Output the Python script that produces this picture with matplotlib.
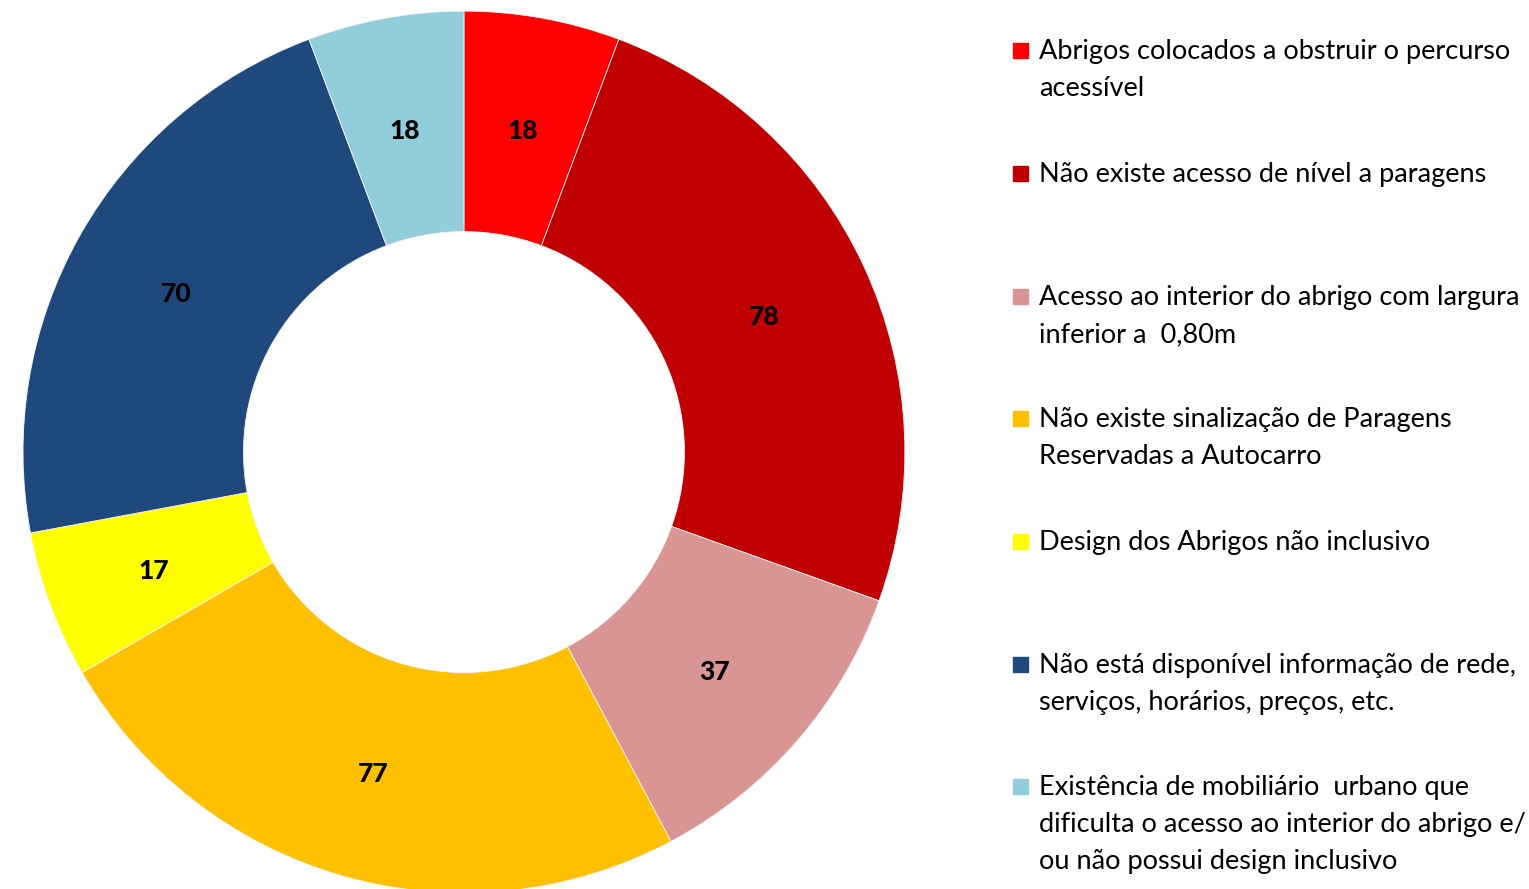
import matplotlib.pyplot as plt
from matplotlib.patches import Rectangle

plt.rcParams['font.family'] = ['Lato', 'DejaVu Sans']

# categorias e contagens
categorias = [
    "Abrigos colocados a obstruir o percurso\nacessível",
    "Não existe acesso de nível a paragens",
    "Acesso ao interior do abrigo com largura\ninferior a  0,80m",
    "Não existe sinalização de Paragens\nReservadas a Autocarro",
    "Design dos Abrigos não inclusivo",
    "Não está disponível informação de rede,\nserviços, horários, preços, etc.",
    "Existência de mobiliário  urbano que\ndificulta o acesso ao interior do abrigo e/\nou não possui design inclusivo",
]
valores = [18, 78, 37, 77, 17, 70, 18]
cores = ["#FF0000", "#C00000", "#D99594", "#FFC000", "#FFFF00", "#1F497D", "#92CDDC"]

fig = plt.figure(figsize=(15.29, 8.89), dpi=100)
ax = fig.add_axes([0.01504, -0.0045, 0.5768, 0.992])

wedges, textos = ax.pie(
    valores, colors=cores, startangle=90, counterclock=False,
    labels=[str(v) for v in valores], labeldistance=0.75,
    wedgeprops=dict(width=0.5, edgecolor="#f4f4f4", linewidth=0.6),
    textprops=dict(fontsize=19, fontweight="black", ha="center", va="center"),
)
# baixa um pouco os rótulos
for t in textos:
    x, y = t.get_position()
    t.set_position((x, y - 0.009))
ax.set_aspect("equal")
ax.set_xlim(-1, 1)
ax.set_ylim(-1, 1)

# legenda desenhada à mão
W, H = 1529, 889
y_topo = [50, 173, 296, 418, 541, 664, 786]
for cat, cor, y in zip(categorias, cores, y_topo):
    fig.add_artist(Rectangle(((1013) / W, 1 - (y + 8) / H), 15 / W, 15 / H,
                             transform=fig.transFigure, color=cor))
    fig.text(1039 / W, 1 - (y - 11) / H, cat, fontsize=19.5, va="top", ha="left",
             linespacing=1.6)

fig.savefig("out.png", dpi=100)
